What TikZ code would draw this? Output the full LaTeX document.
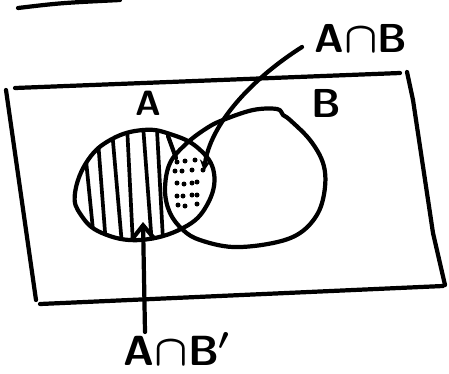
\documentclass[tikz,border=0pt]{standalone}
\usepackage{amsmath}
\usepackage{tikz}
\usetikzlibrary{positioning,arrows.meta,calc}

\tikzset{
  pen/.style={line width=2.4pt, line cap=round, line join=round, black},
  hatch/.style={line width=2.1pt, line cap=round, black},
  setlabel/.style={font=\sffamily\bfseries, inner sep=0pt},
}

\begin{document}
\begin{tikzpicture}[x=0.02cm, y=-0.02cm, >=Stealth]
\useasboundingbox (0,0) rectangle (449,373);

% Define the two sets as closed curves (pixel units)
\def\setA{plot[smooth cycle, tension=0.7] coordinates {(75,193) (88,160) (112,139) (143,130) (170,134) (198,148) (214,173) (207,205) (183,228) (140,240) (102,233) (81,215)}}
\def\setB{plot[smooth cycle, tension=0.6] coordinates {(165,190) (170,163) (187,143) (207,128) (223,120) (253,110) (277,109) (283,115) (290,120) (310,140) (323,163) (325,187) (318,213) (300,233) (273,243) (233,247) (200,240) (183,230) (170,213)}}

% Stray stroke at the top
\draw[pen] (18,8) .. controls (60,3) .. (120,0);

% Universal set (four separate strokes)
\draw[pen] (15,88) -- (400,73);
\draw[pen] (6,90) -- (36,300);
\draw[pen] (407,72) -- (413,100) -- (433,233) -- (445,285);
\draw[pen] (40,304) -- (443,286);

% Hatching in A minus B
\begin{scope}
  \clip \setA;
  \foreach \xt/\yt/\xb/\yb in {85/150/94/240, 98/140/106/245, 112/130/122/245,
                               127/125/133/245, 143/125/152/245, 157/130/163/240} {
    \draw[hatch] (\xt,\yt) -- (\xb,\yb);
  }
\end{scope}

% Dots in the intersection
\foreach \xd/\yd in {177/162, 185/161, 195/160,
                     175/171, 182/171, 192/170, 203/170,
                     177/183, 184/184, 192/183, 197/182,
                     177/196, 183/196, 192/195, 197/195,
                     178/205, 185/206, 197/204} {
  \fill (\xd,\yd) circle (2.5);
}

% The two sets
\draw[pen] \setA;
\draw[pen] \setB;
\draw[pen] (168,136) -- (176,158);

% Set labels
\node[setlabel, font=\sffamily\bfseries\fontsize{20}{20}\selectfont] (lblA) at (148,103) {A};
\node[setlabel, font=\sffamily\bfseries\fontsize{23}{23}\selectfont] (lblB) at (326,103) {B};

% Label and arrow for A n B
\node[setlabel, font=\sffamily\bfseries\fontsize{23}{23}\selectfont] (lblAB) at (361,38) {A$\boldsymbol{\cap}$B};
\coordinate (tailAB) at (302,47);
\coordinate (tipAB) at (204,171);
\draw[pen, -{Stealth[length=2.2mm, width=2.2mm]}] (tailAB) .. controls (250,80) and (210,125) .. (tipAB);

% Label and arrow for A n B'
\node[setlabel, font=\sffamily\bfseries\fontsize{24}{24}\selectfont] (lblABc) at (177,349) {A$\boldsymbol{\cap}$B$\boldsymbol{'}$};
\coordinate (tailABc) at (145,332);
\coordinate (tipABc) at (143,222);
\draw[pen, -{Straight Barb[length=2.8mm, width=4.6mm]}] (tailABc) -- (tipABc);

\end{tikzpicture}
\end{document}
